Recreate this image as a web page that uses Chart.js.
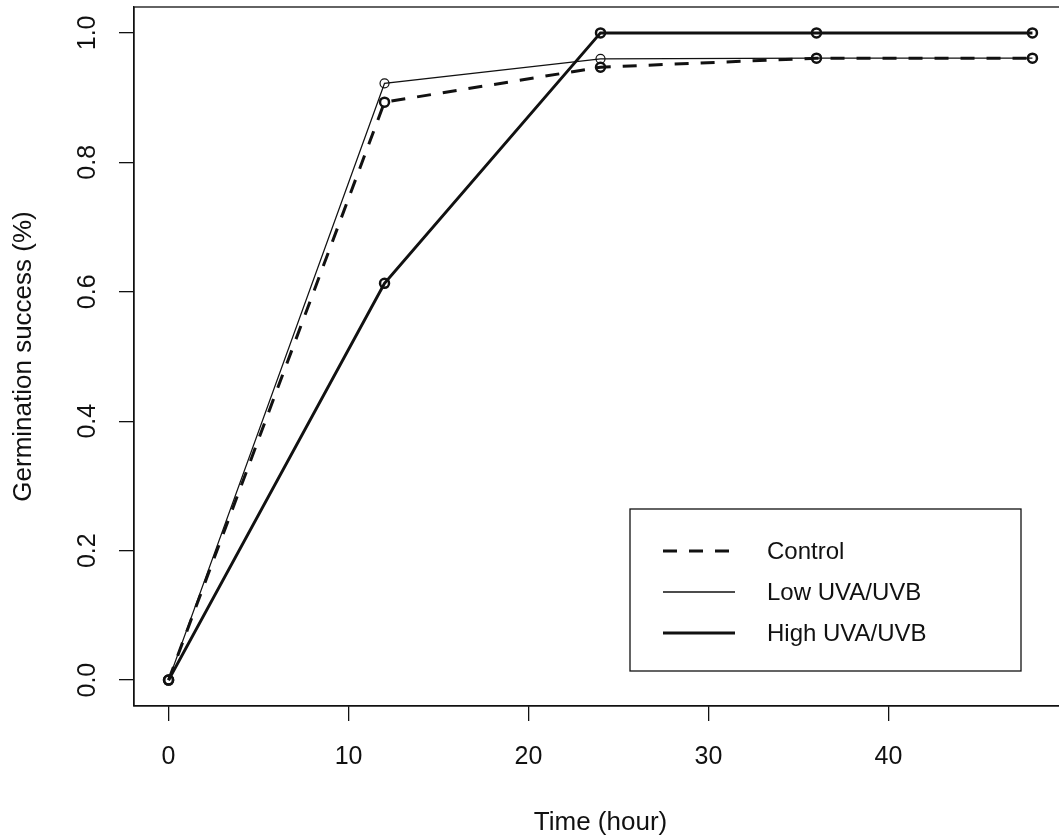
<!DOCTYPE html>
<html>
<head>
<meta charset="utf-8">
<script src="https://cdn.jsdelivr.net/npm/chart.js@4.4.1/dist/chart.umd.min.js"></script>
<style>
  html, body { margin: 0; padding: 0; background: #fff; overflow: hidden; }
  #wrap { width: 1075px; height: 838px; }
</style>
</head>
<body>
<div id="wrap"><canvas id="chart" width="1075" height="838"></canvas></div>
<script>
// germination over time
const hours = [0, 12, 24, 36, 48];
const controlValues = [0, 0.893, 0.947, 0.961, 0.961];
const lowValues = [0, 0.922, 0.960, 0.961, 0.961];
const highValues = [0, 0.613, 1.0, 1.0, 1.0];

const xTickValues = [0, 10, 20, 30, 40];
const yTickValues = [0, 0.2, 0.4, 0.6, 0.8, 1.0];

const seriesLabels = ["Control", "Low UVA/UVB", "High UVA/UVB"];

const FONT = "'Liberation Sans', Arial, sans-serif";
const INK = "#111";

function toPoints(values) {
  return hours.map((h, i) => ({ x: h, y: values[i] }));
}

// R-style frame around the plot region
const boxPlugin = {
  id: "box",
  afterDatasetsDraw(chart) {
    const a = chart.chartArea;
    const ctx = chart.ctx;
    ctx.save();
    ctx.strokeStyle = INK;
    ctx.lineWidth = 1.3;
    ctx.strokeRect(a.left, a.top, a.right - a.left, a.bottom - a.top);
    ctx.restore();
  }
};

// legend drawn like base R legend()
const legendPlugin = {
  id: "rLegend",
  afterDraw(chart) {
    const ctx = chart.ctx;
    const bx = 630, by = 509, bw = 391, bh = 162;
    ctx.save();
    ctx.fillStyle = "#fff";
    ctx.fillRect(bx, by, bw, bh);
    ctx.strokeStyle = INK;
    ctx.lineWidth = 1.3;
    ctx.strokeRect(bx, by, bw, bh);

    chart.data.datasets.forEach((ds, i) => {
      const y = 551 + i * 41;
      ctx.beginPath();
      ctx.setLineDash(ds.borderDash || []);
      ctx.lineWidth = ds.borderWidth;
      ctx.strokeStyle = INK;
      ctx.moveTo(663, y);
      ctx.lineTo(735, y);
      ctx.stroke();
      ctx.setLineDash([]);
      ctx.fillStyle = INK;
      ctx.font = "24px " + FONT;
      ctx.textBaseline = "middle";
      ctx.textAlign = "left";
      ctx.fillText(ds.label, 767, y + 1);
    });
    ctx.restore();
  }
};

new Chart(document.getElementById("chart"), {
  type: "line",
  data: {
    datasets: [
      {
        label: seriesLabels[0],
        data: toPoints(controlValues),
        borderColor: INK,
        borderWidth: 3,
        borderDash: [14, 12],
        pointRadius: 4.5,
        pointBorderWidth: 2.5,
        pointBorderColor: INK,
        pointBackgroundColor: "rgba(0,0,0,0)",
        tension: 0
      },
      {
        label: seriesLabels[1],
        data: toPoints(lowValues),
        borderColor: INK,
        borderWidth: 1.3,
        pointRadius: 4.5,
        pointBorderWidth: 1.2,
        pointBorderColor: INK,
        pointBackgroundColor: "rgba(0,0,0,0)",
        tension: 0
      },
      {
        label: seriesLabels[2],
        data: toPoints(highValues),
        borderColor: INK,
        borderWidth: 3,
        pointRadius: 4.5,
        pointBorderWidth: 2.5,
        pointBorderColor: INK,
        pointBackgroundColor: "rgba(0,0,0,0)",
        tension: 0
      }
    ]
  },
  options: {
    responsive: false,
    animation: false,
    devicePixelRatio: 1,
    layout: { padding: { left: 0, top: 7, right: 8, bottom: 0 } },
    plugins: {
      legend: { display: false },
      tooltip: { enabled: false }
    },
    scales: {
      x: {
        type: "linear",
        min: -1.92,
        max: 49.92,
        afterBuildTicks: scale => { scale.ticks = xTickValues.map(v => ({ value: v })); },
        afterFit: scale => {
          scale.height = 132;
          scale.paddingLeft = 0;
          scale.paddingRight = 0;
        },
        grid: { drawOnChartArea: false, drawTicks: true, tickLength: 15, color: INK, lineWidth: 1.3 },
        border: { display: true, color: INK, width: 1.3 },
        ticks: {
          color: INK,
          font: { family: FONT, size: 25 },
          padding: 21,
          maxRotation: 0,
          callback: v => String(v)
        },
        title: {
          display: true,
          text: "Time (hour)",
          color: INK,
          font: { family: FONT, size: 26 },
          padding: { top: 0, bottom: 0 }
        }
      },
      y: {
        type: "linear",
        min: -0.04,
        max: 1.04,
        afterBuildTicks: scale => { scale.ticks = yTickValues.map(v => ({ value: v })); },
        afterFit: scale => {
          scale.width = 134;
          scale.paddingTop = 0;
          scale.paddingBottom = 0;
        },
        grid: { drawOnChartArea: false, drawTicks: true, tickLength: 15, color: INK, lineWidth: 1.3 },
        border: { display: true, color: INK, width: 1.3 },
        ticks: {
          color: INK,
          font: { family: FONT, size: 25 },
          padding: 14,
          minRotation: 90,
          maxRotation: 90,
          crossAlign: "center",
          callback: v => v.toFixed(1)
        },
        title: {
          display: true,
          text: "Germination success (%)",
          color: INK,
          font: { family: FONT, size: 26 },
          padding: { top: 8, bottom: 0 }
        }
      }
    }
  },
  plugins: [boxPlugin, legendPlugin]
});
</script>
</body>
</html>
